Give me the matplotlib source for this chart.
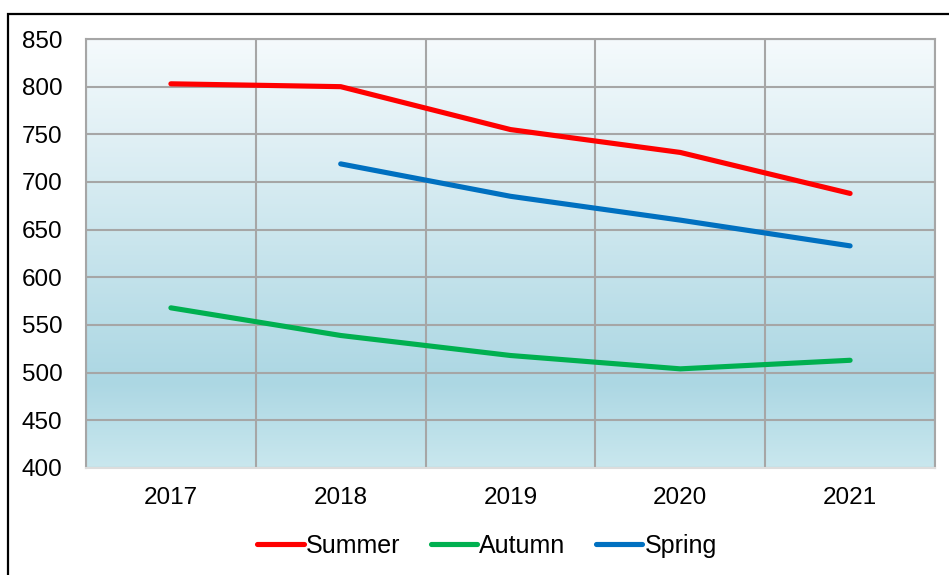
import numpy as np
import matplotlib.pyplot as plt
from matplotlib.colors import LinearSegmentedColormap
from matplotlib.patches import Rectangle

years = ['2017', '2018', '2019', '2020', '2021']
summer = [803, 800, 755, 731, 688]
autumn = [568, 539, 518, 504, 513]
spring = [np.nan, 719, 685, 660, 633]

plt.rcParams['font.family'] = ['Liberation Sans', 'DejaVu Sans']

fig = plt.figure(figsize=(9.49, 5.75), dpi=100)
ax = fig.add_axes([86/949, 1 - 468/575, (935 - 86)/949, (468 - 39)/575])

# background gradient like the excel plot area
cmap = LinearSegmentedColormap.from_list('bg', [(0, '#f5fafc'), (0.8, '#acd7e3'), (1, '#c9e7ee')])
grad = np.linspace(0, 1, 256).reshape(-1, 1)
ax.imshow(grad, cmap=cmap, aspect='auto', extent=[0, 1, 0, 1], transform=ax.transAxes,
          zorder=0, interpolation='bicubic', origin='upper')

x = np.arange(len(years))
ax.plot(x, summer, color='#ff0000', lw=3.7, solid_capstyle='round', label='Summer', zorder=3)
ax.plot(x, autumn, color='#00b050', lw=3.7, solid_capstyle='round', label='Autumn', zorder=3)
ax.plot(x, spring, color='#0070c0', lw=3.7, solid_capstyle='round', label='Spring', zorder=3)

ax.set_xlim(-0.5, len(years) - 0.5)
ax.set_ylim(400, 850)
ax.set_yticks(range(400, 851, 50))
ax.set_xticks(x)
ax.set_xticklabels(years)
ax.set_xticks(np.arange(-0.5, len(years), 1), minor=True)

ax.grid(True, which='major', axis='y', color='#a6a6a6', lw=1.5, zorder=1)
ax.grid(True, which='minor', axis='x', color='#a6a6a6', lw=1.5, zorder=1)
ax.tick_params(which='both', length=0, labelsize=17.5)
ax.tick_params(axis='y', pad=17)
ax.tick_params(axis='x', pad=14)
for s in ax.spines.values():
    s.set_color('#a6a6a6')
    s.set_linewidth(1.5)
ax.spines['bottom'].set_color('#dcdcdc')

leg = fig.legend(loc='center', bbox_to_anchor=(487/949, 1 - 546/575), ncol=3, frameon=False,
                 fontsize=18, handlelength=1.85, handletextpad=0.1, columnspacing=1.2)

# outer chart border, runs off the right and bottom
fig.patches.append(Rectangle((8/949, -0.05), 1.1, 1 - 14/575 + 0.05, transform=fig.transFigure,
                             fill=False, edgecolor='black', lw=1.6, zorder=10))

fig.savefig('out.png', dpi=100)
